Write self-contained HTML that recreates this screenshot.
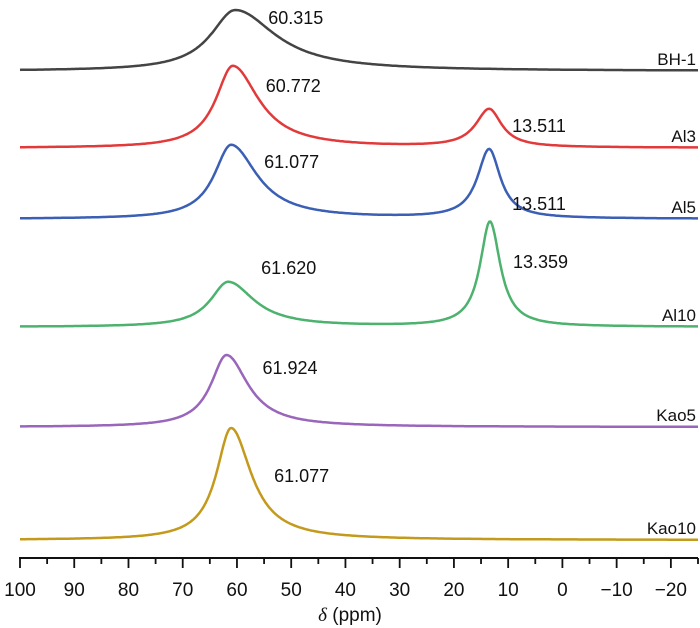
<!DOCTYPE html>
<html><head><meta charset="utf-8"><style>
html,body{margin:0;padding:0;background:#fff;}
svg{display:block;font-family:"Liberation Sans",sans-serif;}
</style></head><body>
<svg id="chart" width="700" height="628" viewBox="0 0 700 628">
<g id="series"></g>
<g id="axis"></g>
<text x="350" y="621" text-anchor="middle" font-size="19" fill="#111"><tspan font-style="italic" font-family="Liberation Serif, serif">δ</tspan> (ppm)</text>
</svg>
<script>
const seriesNames = ["BH-1","Al3","Al5","Al10","Kao5","Kao10"];
const seriesColors = ["#444444","#e23a3a","#3a5fb5","#4cb26e","#9966bb","#c49a1c"];
const baselines = [71,148,219,327,427,540];
const peakCenters = [[60.315],[60.772,13.511],[61.077,13.511],[61.620,13.359],[61.924],[61.077]];
const peakHeights = [[61],[82,38],[74,69],[45,105],[72],[112]];
const peakLeftWidths = [[5.5],[3.8,3.0],[3.8,2.6],[4.0,2.2],[3.5],[3.3]];
const peakRightWidths = [[9],[5.8,2.8],[5.8,2.5],[5.8,2.3],[4.8],[4.5]];
const peakLabels = [["60.315"],["60.772","13.511"],["61.077","13.511"],["61.620","13.359"],["61.924"],["61.077"]];
const peakLabelOffsets = [[[33,14]],[[33,26],[23,22]],[[33,23],[23,60]],[[33,-8],[23,46]],[[36,19]],[[43,54]]];
const tickValues = [100,90,80,70,60,50,40,30,20,10,0,-10,-20];
const tickLabels = ["100","90","80","70","60","50","40","30","20","10","0","\u221210","\u221220"];

const xMin=100,xMax=-25,pxL=20,pxR=698;
function xScale(v){return pxL+(xMin-v)/(xMin-xMax)*(pxR-pxL);}
const NS="http://www.w3.org/2000/svg";
const gS=document.getElementById('series');
const gA=document.getElementById('axis');
function lineshape(ppm,c,h,wl,wr){const w=ppm>c?wl:wr;const d=(ppm-c)/w;return h/(1+d*d);}
seriesNames.forEach((name,i)=>{
  let d="";
  for(let ppm=xMin;ppm>=xMax;ppm-=0.25){
    let y=0;
    peakCenters[i].forEach((c,k)=>{y+=lineshape(ppm,c,peakHeights[i][k],peakLeftWidths[i][k],peakRightWidths[i][k]);});
    const px=xScale(ppm),py=baselines[i]-y;
    d+=(d?"L":"M")+px.toFixed(1)+","+py.toFixed(1);
  }
  const p=document.createElementNS(NS,'path');
  p.setAttribute('d',d);p.setAttribute('fill','none');p.setAttribute('stroke',seriesColors[i]);p.setAttribute('stroke-width','2.5');
  
  
  gS.appendChild(p);
  const t=document.createElementNS(NS,'text');
  t.setAttribute('x',696);t.setAttribute('y',baselines[i]-6);t.setAttribute('text-anchor','end');t.setAttribute('font-size','17');t.setAttribute('fill','#111');
  t.textContent=name;
  
  
  gS.appendChild(t);
  peakCenters[i].forEach((c,k)=>{
    const l=document.createElementNS(NS,'text');
    const top=baselines[i]-peakHeights[i][k];
    l.setAttribute('x',xScale(c)+peakLabelOffsets[i][k][0]);
    l.setAttribute('y',top+peakLabelOffsets[i][k][1]);
    l.setAttribute('font-size','18');l.setAttribute('fill','#111');
    l.textContent=peakLabels[i][k];
    
    
    gS.appendChild(l);
  });
});
const axisY=558;
const ax=document.createElementNS(NS,'line');
ax.setAttribute('x1',pxL-1);ax.setAttribute('x2',pxR);ax.setAttribute('y1',axisY);ax.setAttribute('y2',axisY);ax.setAttribute('stroke','#111');ax.setAttribute('stroke-width','2');


gA.appendChild(ax);
for(let v=100;v>=-25;v-=5){
  const major=v%10===0;
  const tk=document.createElementNS(NS,'line');
  const x=xScale(v);
  tk.setAttribute('x1',x);tk.setAttribute('x2',x);tk.setAttribute('y1',axisY);tk.setAttribute('y2',axisY+(major?10:6));tk.setAttribute('stroke','#111');tk.setAttribute('stroke-width','1.8');
  
  
  gA.appendChild(tk);
}
tickValues.forEach((v,i)=>{
  const t=document.createElementNS(NS,'text');
  t.setAttribute('x',xScale(v));t.setAttribute('y',axisY+38);t.setAttribute('text-anchor','middle');t.setAttribute('font-size','19');t.setAttribute('fill','#111');
  t.textContent=tickLabels[i];
  
  
  gA.appendChild(t);
});
</script>
</body></html>
